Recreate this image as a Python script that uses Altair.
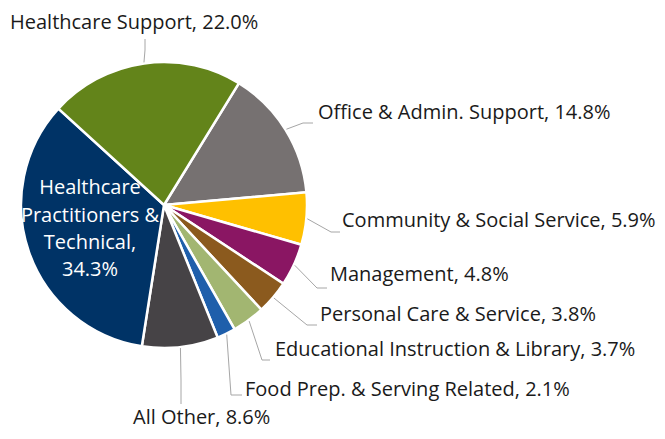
import math
import altair as alt
import pandas as pd

# ---- data (clockwise order starting at the first slice) ----
categories = [
    "Office & Admin. Support",
    "Community & Social Service",
    "Management",
    "Personal Care & Service",
    "Educational Instruction & Library",
    "Food Prep. & Serving Related",
    "All Other",
    "Healthcare Practitioners & Technical",
    "Healthcare Support",
]
shares = [14.8, 5.9, 4.8, 3.8, 3.7, 2.1, 8.6, 34.3, 22.0]
colors = ["#767171", "#FFC000", "#8A1663", "#8B5A1E", "#A2B671",
          "#1F5FAB", "#464346", "#003366", "#63841A"]

# ---- layout (page pixel coordinates) ----
CX, CY, R = 164, 205, 143
START = math.radians(31.6)
FONT = "Open Sans"
FS = 20
# outside label: (text x, text y, elbow x, elbow y, end x, end y)
label_layout = {
    "Office & Admin. Support": (318, 113, 303, 123, 313, 123),
    "Community & Social Service": (342, 221, 331, 232, 340, 232),
    "Management": (330, 275, 317, 288, 327, 288),
    "Personal Care & Service": (320, 315, 307, 325, 317, 325),
    "Educational Instruction & Library": (275, 350, 262, 360, 270, 360),
    "Food Prep. & Serving Related": (245, 390, 231, 395, 242, 395),
    "All Other": (133, 418, 181, 380, 181, 404),
    "Healthcare Support": (10, 23, 145, 50, 145, 39),
}

df = pd.DataFrame({"cat": categories, "value": shares,
                   "idx": list(range(len(categories)))})

# leader lines: start on the slice edge at its mid angle
rows = []
labels = []
cum = 0.0
total = sum(shares)
for c, v in zip(categories, shares):
    mid = START + 2 * math.pi * (cum + v / 2) / total
    cum += v
    if c not in label_layout:
        continue
    tx, ty, ex, ey, fx, fy = label_layout[c]
    sx = CX + (R + 1) * math.sin(mid)
    sy = CY - (R + 1) * math.cos(mid)
    for k, (px, py) in enumerate([(sx, sy), (ex, ey), (fx, fy)]):
        rows.append({"cat": c, "k": k, "px": px, "py": py})
    labels.append({"text": f"{c}, {v:.1f}%", "px": tx, "py": ty})
leaders = pd.DataFrame(rows)
labels_df = pd.DataFrame(labels)

inner_lines = ["Healthcare", "Practitioners &", "Technical,", "34.3%"]
inner_y = [188, 216, 243, 270]
inner_df = pd.DataFrame({"text": inner_lines, "px": [90] * 4, "py": inner_y})

W, H = 649, 423
xs = alt.Scale(domain=[8, 8 + W])
ys = alt.Scale(domain=[8 + H, 8])

pie = alt.Chart(df).mark_arc(
    radius=R, stroke="white", strokeWidth=2.5
).encode(
    theta=alt.Theta("value:Q", stack=True,
                    scale=alt.Scale(range=[START, START + 2 * math.pi])),
    order=alt.Order("idx:Q"),
    color=alt.Color("cat:N", scale=alt.Scale(domain=categories, range=colors),
                    legend=None),
    x=alt.value(CX - 8),
    y=alt.value(CY - 8),
)

lines = alt.Chart(leaders).mark_line(color="#A6A6A6", strokeWidth=1).encode(
    x=alt.X("px:Q", scale=xs, axis=None),
    y=alt.Y("py:Q", scale=ys, axis=None),
    detail="cat:N",
    order="k:Q",
)

text = alt.Chart(labels_df).mark_text(
    align="left", baseline="middle", font=FONT, fontSize=FS, color="#1a1a1a"
).encode(
    x=alt.X("px:Q", scale=xs, axis=None),
    y=alt.Y("py:Q", scale=ys, axis=None),
    text="text:N",
)

inner = alt.Chart(inner_df).mark_text(
    align="center", baseline="middle", font=FONT, fontSize=FS, color="white"
).encode(
    x=alt.X("px:Q", scale=xs, axis=None),
    y=alt.Y("py:Q", scale=ys, axis=None),
    text="text:N",
)

chart = alt.layer(pie, lines, text, inner).properties(
    width=W, height=H, padding=0, autosize="none"
).configure_view(stroke=None)

chart.save("out.html", embed_options={"renderer": "svg", "actions": False})
